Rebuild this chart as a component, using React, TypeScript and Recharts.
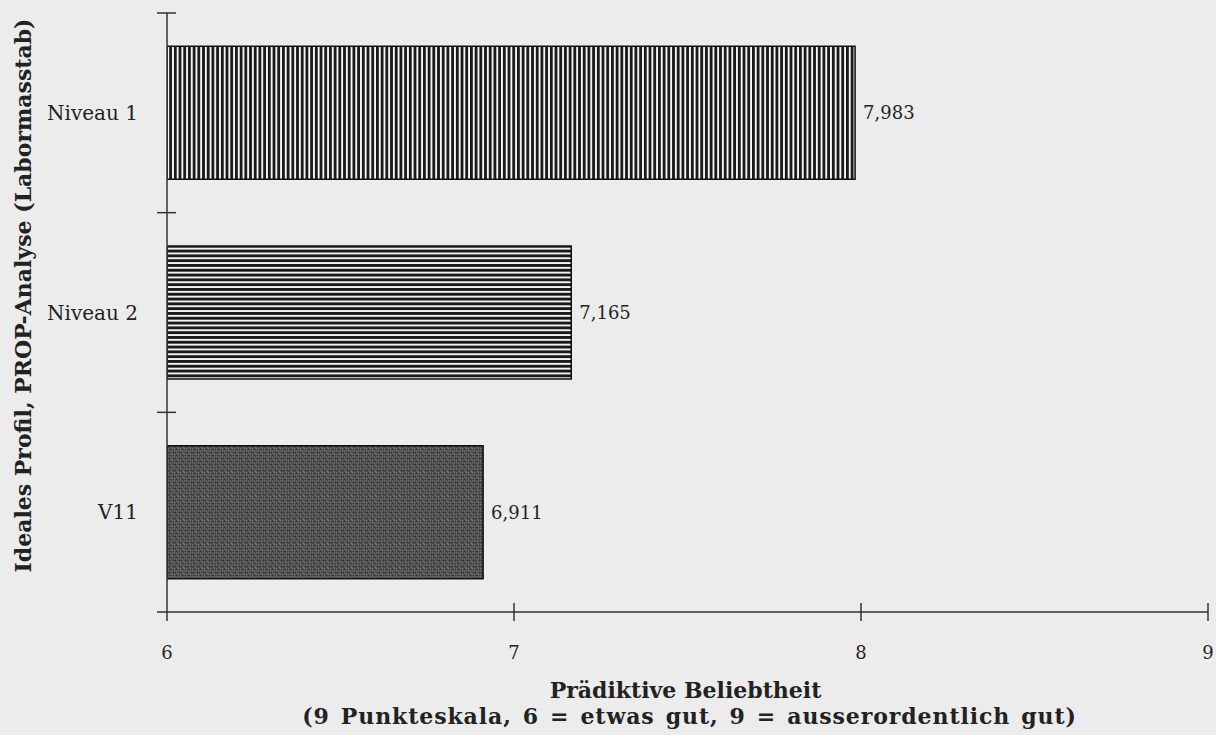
import React from "react";
import { BarChart, Bar, XAxis, YAxis, Cell, LabelList } from "recharts";

const categories = ["Niveau 1", "Niveau 2", "V11"];
const values = [7.983, 7.165, 6.911];
const fills = ["url(#vstripes)", "url(#hstripes)", "url(#stipple)"];
const xTicks = [6, 7, 8, 9];
const xDomain: [number, number] = [6, 9];
const xTitle1 = "Prädiktive Beliebtheit";
const xTitle2 = "(9 Punkteskala, 6 = etwas gut, 9 = ausserordentlich gut)";
const yTitle = "Ideales Profil, PROP-Analyse (Labormasstab)";

const data = categories.map((c, i) => ({ name: c, value: values[i] }));

const FONT = "'DejaVu Serif', 'Liberation Serif', serif";
const INK = "#222";
const BG = "#ececec";

const fmt = (v: any) => Number(v).toFixed(3).replace(".", ",");

const XTick = (props: any) => {
  const { x, y, payload, index } = props;
  return (
    <g>
      {index === 0 ? (
        <>
          <line x1={x} x2={x} y1={y} y2={y + 9} stroke="#333" strokeWidth={1.5} />
          <line x1={x - 10} x2={x} y1={y} y2={y} stroke="#333" strokeWidth={1.5} />
        </>
      ) : (
        <line x1={x} x2={x} y1={y - 9} y2={y + 9} stroke="#333" strokeWidth={1.5} />
      )}
      <text x={x} y={y + 47} textAnchor="middle" fontFamily={FONT} fontSize={18} fill={INK}>
        {payload.value}
      </text>
    </g>
  );
};

const YTick = (props: any) => {
  const { x, y, payload } = props;
  const off = payload.offset || 0;
  return (
    <g>
      <line x1={x - 10} x2={x + 9} y1={y - off} y2={y - off} stroke="#333" strokeWidth={1.5} />
      <text x={x - 29} y={y} dy={7} textAnchor="end" fontFamily={FONT} fontSize={20} fill={INK}>
        {payload.value}
      </text>
    </g>
  );
};

const XTitle = (props: any) => {
  const vb = props.viewBox;
  const cx = vb.x + vb.width / 2;
  return (
    <text textAnchor="middle" fontFamily={FONT} fontWeight="bold" fontSize={22} fill={INK}>
      <tspan x={cx - 2} y={vb.y + 86}>{xTitle1}</tspan>
      <tspan x={cx + 2} y={vb.y + 112} letterSpacing={0.9} wordSpacing={2.5}>
        {xTitle2}
      </tspan>
    </text>
  );
};

const YTitle = (props: any) => {
  const vb = props.viewBox;
  const cy = vb.y + vb.height / 2 - 17;
  const tx = 31;
  return (
    <text
      x={tx}
      y={cy}
      transform={`rotate(-90, ${tx}, ${cy})`}
      textAnchor="middle"
      fontFamily={FONT}
      fontWeight="bold"
      fontSize={22}
      fill={INK}
    >
      {yTitle}
    </text>
  );
};

const Patterns = () => (
  <svg width={0} height={0} style={{ position: "absolute" }}>
    <defs>
      <pattern id="vstripes" patternUnits="userSpaceOnUse" width={4.7} height={10}>
        <rect x={0} y={0} width={4.7} height={10} fill="#f4f4f4" />
        <rect x={0} y={0} width={2.8} height={10} fill="#1a1a1a" />
      </pattern>
      <pattern id="hstripes" patternUnits="userSpaceOnUse" width={10} height={4.8}>
        <rect x={0} y={0} width={10} height={4.8} fill="#f4f4f4" />
        <rect x={0} y={0} width={10} height={2.9} fill="#1a1a1a" />
      </pattern>
      <pattern id="stipple" patternUnits="userSpaceOnUse" width={6} height={6}>
        <rect x={0} y={0} width={6} height={6} fill="#4f4f4f" />
        <rect x={0} y={0} width={1} height={1} fill="#7a7a7a" />
        <rect x={2} y={1} width={1} height={1} fill="#777" />
        <rect x={4} y={0} width={1} height={1} fill="#6e6e6e" />
        <rect x={1} y={2} width={1} height={1} fill="#2e2e2e" />
        <rect x={3} y={3} width={1} height={1} fill="#7c7c7c" />
        <rect x={5} y={2} width={1} height={1} fill="#333" />
        <rect x={0} y={4} width={1} height={1} fill="#737373" />
        <rect x={2} y={5} width={1} height={1} fill="#2b2b2b" />
        <rect x={4} y={4} width={1} height={1} fill="#767676" />
        <rect x={5} y={5} width={1} height={1} fill="#3a3a3a" />
      </pattern>
    </defs>
  </svg>
);

export default function App() {
  return (
    <div style={{ position: "absolute", left: 0, top: 0, width: 1216, height: 735, background: BG }}>
      <Patterns />
      <BarChart
        width={1216}
        height={735}
        data={data}
        layout="vertical"
        margin={{ top: 13, right: 8, bottom: 0, left: 0 }}
        barCategoryGap="16.7%"
      >
        <XAxis
          type="number"
          domain={xDomain}
          ticks={xTicks}
          allowDataOverflow
          height={123}
          tickSize={0}
          tickMargin={0}
          tickLine={false}
          axisLine={{ stroke: "#333", strokeWidth: 1.5 }}
          tick={<XTick />}
          interval={0}
          label={<XTitle />}
        />
        <YAxis
          type="category"
          dataKey="name"
          width={167}
          tickSize={0}
          tickMargin={0}
          tickLine={false}
          axisLine={{ stroke: "#333", strokeWidth: 1.5 }}
          tick={<YTick />}
          interval={0}
          label={<YTitle />}
        />
        <Bar dataKey="value" isAnimationActive={false} stroke="#111" strokeWidth={1.5}>
          {data.map((d, i) => (
            <Cell key={d.name} fill={fills[i]} />
          ))}
          <LabelList
            dataKey="value"
            position="right"
            offset={8}
            formatter={fmt}
            style={{ fontFamily: FONT, fontSize: 18, fill: INK }}
          />
        </Bar>
      </BarChart>
    </div>
  );
}
